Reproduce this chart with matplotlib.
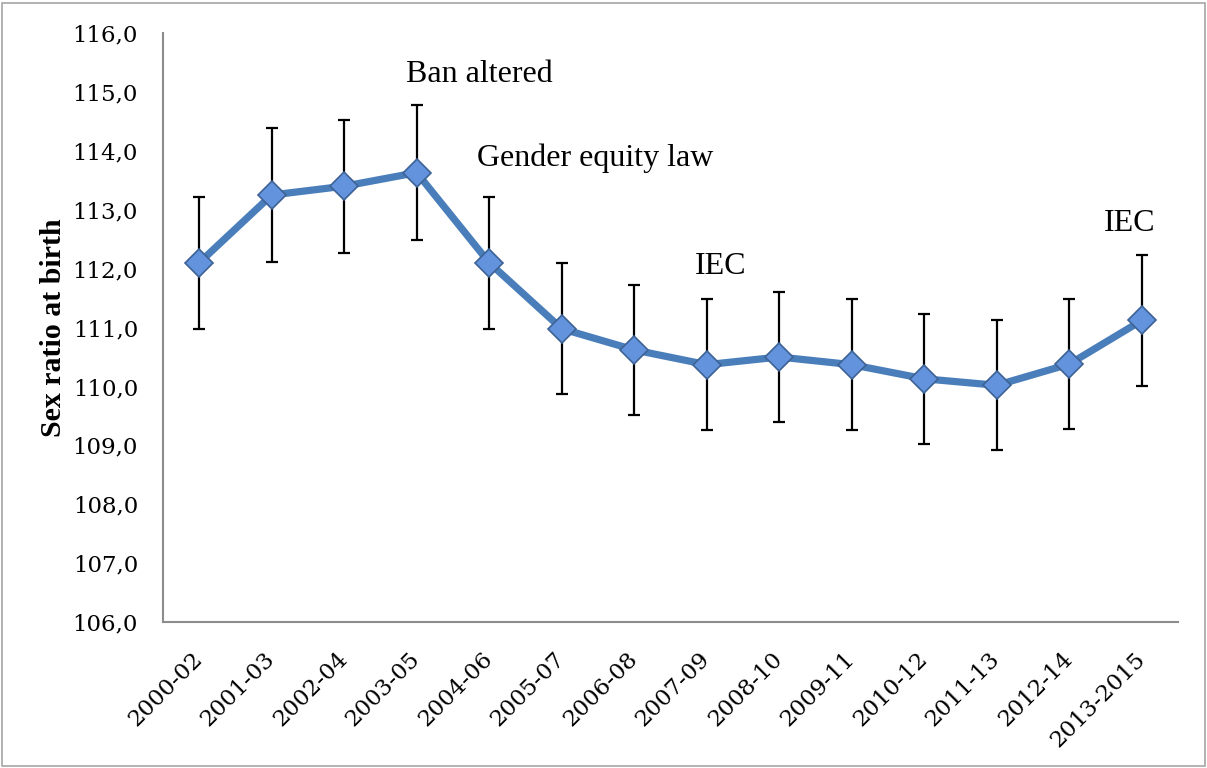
import matplotlib.pyplot as plt
from matplotlib.patches import Rectangle

periods = ["2000-02", "2001-03", "2002-04", "2003-05", "2004-06", "2005-07", "2006-08",
           "2007-09", "2008-10", "2009-11", "2010-12", "2011-13", "2012-14", "2013-2015"]
sex_ratio = [112.1, 113.25, 113.4, 113.63, 112.1, 110.98, 110.62,
             110.37, 110.5, 110.37, 110.13, 110.02, 110.38, 111.12]
ci_half = [1.12, 1.13, 1.13, 1.14, 1.12, 1.11, 1.11,
           1.11, 1.11, 1.11, 1.1, 1.1, 1.11, 1.11]

# annotations: (text, x position in category units, y value, alignment)
events = [("Ban altered", 2.85, 115.3, "left"),
          ("Gender equity law", 3.83, 113.87, "left"),
          ("IEC", 7.19, 112.03, "center"),
          ("IEC", 12.84, 112.76, "center")]

fig = plt.figure(figsize=(12.07, 7.68), dpi=100)
ax = fig.add_axes([0.135, 0.19, 0.841, 0.767])

x = list(range(len(periods)))
ax.errorbar(x, sex_ratio, yerr=ci_half, fmt='none', ecolor='black',
            elinewidth=1.6, capsize=4.5, capthick=1.6, zorder=2)
ax.plot(x, sex_ratio, color='#4a7ebb', linewidth=5.2, zorder=3,
        marker='D', markersize=14, markerfacecolor='#6393dd',
        markeredgecolor='#3d6294', markeredgewidth=1.2)

for label, xp, yp, align in events:
    ax.text(xp, yp, label, ha=align, va='center', fontsize=23,
            family='Liberation Serif')

ax.set_xlim(-0.5, len(periods) - 0.5)
ax.set_ylim(106, 116)
ax.set_yticks([106 + i for i in range(11)])
ax.set_yticklabels([f"{106 + i},0" for i in range(11)],
                   fontfamily='DejaVu Serif', fontsize=16.5)
ax.set_xticks(x)
ax.set_xticklabels(periods, rotation=45, ha='right', va='center',
                   rotation_mode='anchor', fontfamily='DejaVu Serif', fontsize=16.5)
ax.tick_params(axis='both', length=0)
ax.tick_params(axis='y', pad=18)
ax.tick_params(axis='x', pad=24)

ax.set_ylabel("Sex ratio at birth", fontsize=21.5, fontweight='bold',
              family='Liberation Serif', labelpad=4)

for side in ['top', 'right']:
    ax.spines[side].set_visible(False)
for side in ['left', 'bottom']:
    ax.spines[side].set_color('#8c8c8c')
    ax.spines[side].set_linewidth(1.5)

fig.patches.append(Rectangle((0.002, 0.002), 0.996, 0.994, transform=fig.transFigure,
                             fill=False, edgecolor='#a6a6a6', linewidth=1.2))

fig.savefig("out.png", dpi=100)
